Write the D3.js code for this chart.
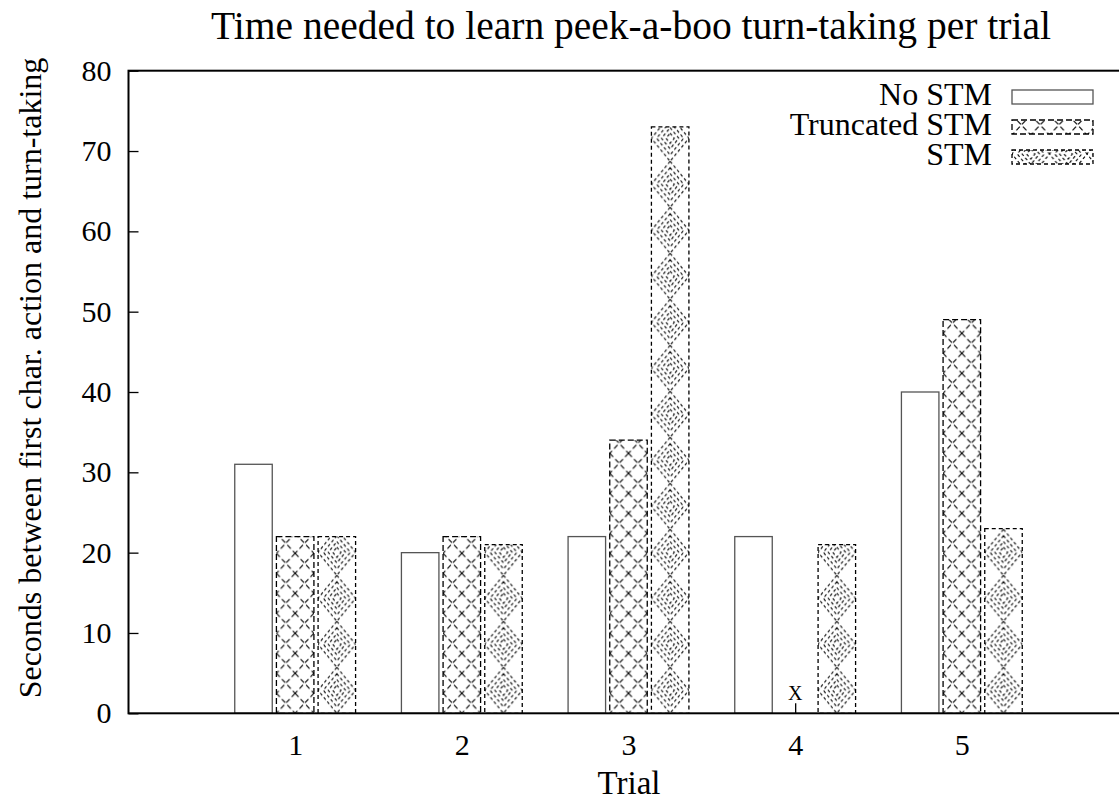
<!DOCTYPE html>
<html>
<head>
<meta charset="utf-8">
<script src="https://cdn.jsdelivr.net/npm/d3@7"></script>
<style>
  body { margin: 0; background: #fff; }
</style>
</head>
<body>
<div id="vis"></div>
<script>
// data
let trials = ["1", "2", "3", "4", "5"];
let series = ["No STM", "Truncated STM", "STM"];
let noStm = [31, 20, 22, 22, 40];
let truncatedStm = [22, 22, 34, null, 49];  // trial 4 has no value, marked with X
let stm = [22, 21, 73, 21, 23];
let yTicks = [0, 10, 20, 30, 40, 50, 60, 70, 80];

let font = "'Liberation Serif', 'Times New Roman', Tinos, serif";
let width = 1119, height = 801;
let margin = {top: 70.7, bottom: 87.7, left: 128.5, right: -9.5};

let svg = d3.select("#vis").append("svg")
  .attr("width", width)
  .attr("height", height);

let defs = svg.append("defs");

// one pattern per bar so the hatch lines up with the bar centre
function makePattern(id, type, x0, y0, w) {
  let p = defs.append("pattern")
    .attr("id", id)
    .attr("patternUnits", "userSpaceOnUse");
  if (type == "cross") {
    let s = w / 2;
    p.attr("width", s).attr("height", 20)
      .attr("x", x0 + w / 2).attr("y", y0);
    p.append("rect").attr("width", s).attr("height", 20).attr("fill", "#fff");
    p.append("path")
      .attr("d", "M0,0L" + s + ",20M" + s + ",0L0,20")
      .attr("stroke", "#000").attr("stroke-width", 1.1)
      .attr("stroke-dasharray", "5,3").attr("fill", "none");
  } else {
    let s = w;
    p.attr("width", s).attr("height", 46)
      .attr("x", x0).attr("y", y0);
    p.append("rect").attr("width", s).attr("height", 46).attr("fill", "#fff");
    let cx = s / 2, cy = 23;
    let dia = k => "M" + cx + "," + (cy - 23 * k) + "L" + (cx + cx * k) + "," + cy +
      "L" + cx + "," + (cy + 23 * k) + "L" + (cx - cx * k) + "," + cy + "Z";
    p.append("path")
      .attr("d", dia(1) + dia(0.72) + dia(0.46) + dia(0.22))
      .attr("stroke", "#000").attr("stroke-width", 1.1)
      .attr("stroke-dasharray", "3,2.5").attr("fill", "none");
  }
  return "url(#" + id + ")";
}

let styles = {
  "No STM": {type: null, stroke: "#555", dash: null},
  "Truncated STM": {type: "cross", stroke: "#000", dash: "6,3"},
  "STM": {type: "diamond", stroke: "#000", dash: "4,3"}
};

let x = d3.scaleLinear()
  .domain([-1, 5])
  .range([margin.left, width - margin.right]);

let slot = (x(1) - x(0)) / 4;
let xSeries = d3.scaleBand()
  .domain(series)
  .range([-1.5 * slot, 1.5 * slot])
  .paddingInner(0.1)
  .paddingOuter(0.05);

let y = d3.scaleLinear()
  .domain([0, 80])
  .range([height - margin.bottom, margin.top]);

let rows = [];
trials.forEach((t, i) => {
  rows.push({trial: i, series: "No STM", value: noStm[i]});
  rows.push({trial: i, series: "Truncated STM", value: truncatedStm[i]});
  rows.push({trial: i, series: "STM", value: stm[i]});
});

function fillFor(d, i, x0, y0, w) {
  let st = styles[d.series];
  if (!st.type) return "#fff";
  return makePattern("pat" + i, st.type, x0, y0, w);
}

// axes (drawn first so the bars cover the ticks)
let yAxis = d3.axisLeft(y)
  .tickValues(yTicks)
  .tickSize(-10)
  .tickPadding(17);

svg.append("g")
  .attr("transform", "translate(" + margin.left + ",0)")
  .call(yAxis)
  .call(g => g.select(".domain").remove())
  .call(g => g.selectAll("line").attr("stroke", "#000").attr("stroke-width", 1.3))
  .call(g => g.selectAll("text").attr("font-size", 30).style("font-family", font).attr("fill", "#000"));

let xAxis = d3.axisBottom(x)
  .tickValues(d3.range(trials.length))
  .tickFormat(i => trials[i])
  .tickSize(-10)
  .tickPadding(20);

svg.append("g")
  .attr("transform", "translate(0," + y(0) + ")")
  .call(xAxis)
  .call(g => g.select(".domain").remove())
  .call(g => g.selectAll("line").attr("stroke", "#000").attr("stroke-width", 1.3))
  .call(g => g.selectAll("text").attr("font-size", 30).style("font-family", font).attr("fill", "#000"));

// bars
let bw = xSeries.bandwidth();
svg.append("g")
  .selectAll("rect")
  .data(rows.filter(d => d.value != null))
  .join("rect")
    .attr("x", d => x(d.trial) + xSeries(d.series))
    .attr("y", d => y(d.value))
    .attr("width", bw)
    .attr("height", d => y(0) - y(d.value))
    .attr("fill", (d, i) => fillFor(d, i, x(d.trial) + xSeries(d.series), y(0), bw))
    .attr("stroke", d => styles[d.series].stroke)
    .attr("stroke-width", 1.3)
    .attr("stroke-dasharray", d => styles[d.series].dash);

// missing value marker
svg.append("g")
  .selectAll("text")
  .data(rows.filter(d => d.value == null))
  .join("text")
    .attr("x", d => x(d.trial) + xSeries(d.series) + bw / 2)
    .attr("y", y(0) - 13)
    .attr("text-anchor", "middle")
    .attr("font-size", 20)
    .style("font-family", font)
    .text("X");

// frame
svg.append("rect")
  .attr("x", margin.left)
  .attr("y", margin.top)
  .attr("width", width - margin.right - margin.left)
  .attr("height", height - margin.bottom - margin.top)
  .attr("fill", "none")
  .attr("stroke", "#000")
  .attr("stroke-width", 2);

// title and labels
svg.append("text")
  .attr("x", 631)
  .attr("y", 39)
  .attr("text-anchor", "middle")
  .attr("font-size", 39.5)
  .style("font-family", font)
  .text("Time needed to learn peek-a-boo turn-taking per trial");

svg.append("text")
  .attr("x", 629)
  .attr("y", 794)
  .attr("text-anchor", "middle")
  .attr("font-size", 33)
  .style("font-family", font)
  .text("Trial");

svg.append("text")
  .attr("transform", "translate(41,378) rotate(-90)")
  .attr("text-anchor", "middle")
  .attr("font-size", 32)
  .style("font-family", font)
  .text("Seconds between first char. action and turn-taking");

// legend
let legend = svg.append("g")
  .selectAll("g")
  .data(series)
  .join("g")
    .attr("transform", (d, i) => "translate(0," + (105 + i * 30) + ")");

legend.append("text")
  .attr("x", 992)
  .attr("text-anchor", "end")
  .attr("font-size", 32)
  .style("font-family", font)
  .text(d => d);

legend.append("rect")
  .attr("x", 1012)
  .attr("y", -15)
  .attr("width", 81)
  .attr("height", 14)
  .attr("fill", (d, i) => styles[d].type
    ? makePattern("legpat" + i, styles[d].type, 1012, (105 + i * 30) - 15, bw)
    : "#fff")
  .attr("stroke", d => styles[d].stroke)
  .attr("stroke-width", 1.3)
  .attr("stroke-dasharray", d => styles[d].dash);
</script>
</body>
</html>
